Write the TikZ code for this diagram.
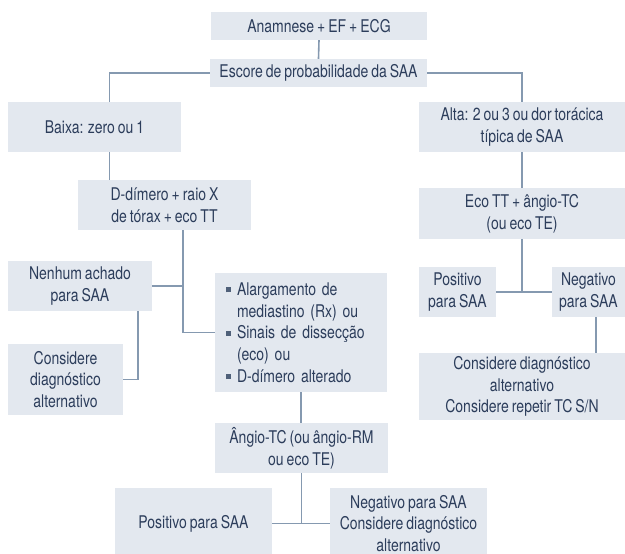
\documentclass[tikz,border=0pt]{standalone}
\usepackage{fontspec}
\setmainfont{TeX Gyre Heros}[FakeStretch=0.8]
\definecolor{boxfill}{HTML}{E3E8EF}
\definecolor{boxtext}{HTML}{2C3D5B}
\definecolor{linkcol}{HTML}{8599B0}
\definecolor{bulcol}{HTML}{4F6079}
\newcommand{\blt}{\makebox[11pt][l]{\textcolor{bulcol}{\raisebox{3pt}{\rule{5pt}{5pt}}}}}
\newcommand{\ind}{\hspace*{11pt}}
% condensed body font with tight word spaces
\newcommand{\chartfont}{\fontsize{17.5}{21.7}\selectfont
  \fontdimen2\font=0.17em \fontdimen3\font=0pt \fontdimen4\font=0pt\relax}
\tikzset{
  box/.style={fill=boxfill, text=boxtext, inner sep=0pt, align=center,
    font=\chartfont},
  link/.style={draw=linkcol, line width=1.6pt}
}
\begin{document}
\begin{tikzpicture}[x=1pt,y=-1pt]
\clip (0,0) rectangle (625,554);
% top of the chart
\node[box, minimum width=216pt, minimum height=28pt] (anam) at (319,26) {Anamnese + EF + ECG};
\node[box, minimum width=217pt, minimum height=28pt] (esc) at (318.5,73) {Escore de probabilidade da SAA};
% low probability branch
\node[box, minimum width=173pt, minimum height=50pt] (baixa) at (94.5,127) {Baixa: zero ou 1};
\node[box, minimum width=173pt, minimum height=50pt] (ddim) at (164.5,205) {D-dímero + raio X\\de tórax + eco TT};
\node[box, minimum width=144pt, minimum height=50pt] (nenh) at (80,286) {Nenhum achado\\para SAA};
\node[box, minimum width=115pt, minimum height=71pt] (consl) at (65.5,379.5) {Considere\\diagnóstico\\alternativo};
\node[box, minimum width=172pt, minimum height=119pt, text width=150pt, inner xsep=11pt, align=left] (bul) at (301,332.5)
  {\blt Alargamento de\\\ind mediastino (Rx) ou\\\blt Sinais de dissecção\\\ind (eco) ou\\\blt D-dímero alterado};
\node[box, minimum width=173pt, minimum height=50pt] (angio) at (301.5,448) {Ângio-TC (ou ângio-RM\\ou eco TE)};
\node[box, minimum width=157pt, minimum height=71pt] (posb) at (193.5,523.5) {Positivo para SAA};
\node[box, minimum width=157pt, minimum height=71pt] (negb) at (408.5,523.5) {Negativo para SAA\\Considere diagnóstico\\alternativo};
% high probability branch
\node[box, minimum width=206pt, minimum height=50pt] (alta) at (522,127) {Alta: 2 ou 3 ou dor torácica\\típica de SAA};
\node[box, minimum width=206pt, minimum height=51pt] (eco) at (522,213.5) {Eco TT + ângio-TC\\(ou eco TE)};
\node[box, minimum width=77pt, minimum height=50pt] (posr) at (457.5,292) {Positivo\\para SAA};
\node[box, minimum width=73pt, minimum height=50pt] (negr) at (588.5,292) {Negativo\\para SAA};
\node[box, minimum width=206pt, minimum height=67pt] (consr) at (522,386.5) {Considere diagnóstico\\alternativo\\Considere repetir TC S/N};
% connectors
\draw[link] (anam.south) -- (esc.north);
\coordinate (bj) at ([xshift=31.5pt]ddim.north west);
\draw[link] (esc.west) -| (bj |- baixa.north);
\draw[link] (esc.east) -| (alta.north);
\draw[link] (bj |- baixa.south) -- (bj);
\draw[link] (alta.south) -- (eco.north);
\coordinate (dj) at ([xshift=18.5pt]ddim.south);
\draw[link] (dj) |- (bul.west);
\draw[link] (nenh.east) -- (nenh.east -| dj);
\coordinate (nj) at ([xshift=-14pt]nenh.south east);
\draw[link] (nj) |- (consl.east);
\draw[link] (bul.south) -- (bul.south |- angio.north);
\coordinate (aj) at (angio.south |- posb.east);
\draw[link] (angio.south) -- (aj);
\draw[link] (posb.east) -- (negb.west);
\coordinate (ej) at (eco.south |- posr.east);
\draw[link] (eco.south) -- (ej);
\draw[link] (posr.east) -- (negr.west);
\coordinate (rj) at ([xshift=7.5pt]negr.south);
\draw[link] (rj) -- (rj |- consr.north);
\end{tikzpicture}
\end{document}
